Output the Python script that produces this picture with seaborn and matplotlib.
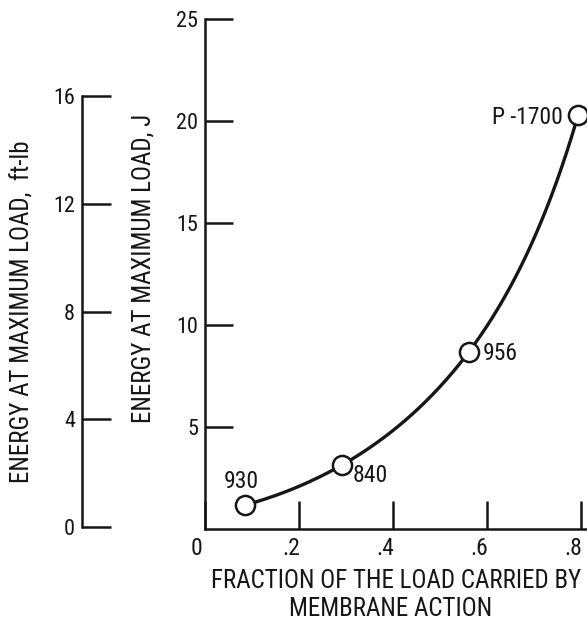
import numpy as np
import pandas as pd
import matplotlib
matplotlib.use("Agg")
import matplotlib.pyplot as plt
import matplotlib.transforms as mtransforms
import seaborn as sns

# Measured specimens: fraction of load carried by membrane action vs. energy
specimens = ["930", "840", "956", "P -1700"]
membrane_fraction = [0.085, 0.291, 0.562, 0.794]
energy_joule = [1.17, 3.13, 8.7, 20.3]

x_ticks = [0, 0.2, 0.4, 0.6, 0.8]
x_tick_labels = ["0", ".2", ".4", ".6", ".8"]
y_ticks_joule = [5, 10, 15, 20, 25]
y_ticks_ftlb = [0, 4, 8, 12, 16]

sns.set_theme(style="white")
plt.rcParams["font.family"] = ["Roboto Condensed", "DejaVu Sans"]

INK = "#161616"
W, H = 587, 623
fig = plt.figure(figsize=(W / 100, H / 100), dpi=100)
fig.patch.set_facecolor("white")


def box(x0, y0, x1, y1):
    """Axes rectangle from pixel corners (top-left origin)."""
    return [x0 / W, 1 - y1 / H, (x1 - x0) / W, (y1 - y0) / H]


ax = fig.add_axes(box(205, 19, 587, 529))
df = pd.DataFrame({"fraction": membrane_fraction, "energy": energy_joule, "id": specimens})

# smooth curve through the measured points (interpolated in log space)
coef = np.polyfit(df["fraction"], np.log(df["energy"]), 3)
xs = np.linspace(df["fraction"].min(), df["fraction"].max(), 200)
curve = pd.DataFrame({"fraction": xs, "energy": np.exp(np.polyval(coef, xs))})
sns.lineplot(data=curve, x="fraction", y="energy", ax=ax, color=INK, linewidth=2.4, zorder=2)
sns.scatterplot(data=df, x="fraction", y="energy", ax=ax, s=190, facecolor="white",
                edgecolor=INK, linewidth=1.8, zorder=3, clip_on=False)

offsets = {"930": (-4, 24), "840": (28, -10), "956": (31, -2), "P -1700": (-51, -3)}
for _, r in df.iterrows():
    ax.annotate(r["id"], (r["fraction"], r["energy"]), xytext=offsets[r["id"]],
                textcoords="offset pixels", ha="center", va="center",
                fontsize=17, color=INK)

ax.set_xlim(0, 0.8128)
ax.set_ylim(0, 25)
ax.set_xticks(x_ticks)
ax.set_xticklabels(x_tick_labels)
ax.set_yticks(y_ticks_joule)
ax.set_yticklabels([str(v) for v in y_ticks_joule])
ax.set_xlabel("")
ax.set_ylabel("")
for s in ["top", "right"]:
    ax.spines[s].set_visible(False)
for s in ["left", "bottom"]:
    ax.spines[s].set_color(INK)
    ax.spines[s].set_linewidth(1.8)
ax.tick_params(axis="both", direction="in", length=20, width=1.8, color=INK,
               labelcolor=INK, bottom=True, left=True)
ax.tick_params(axis="x", pad=6, labelsize=17)
ax.tick_params(axis="y", pad=5, labelsize=16)

# nudge the x tick labels slightly left of their ticks
shift = mtransforms.ScaledTranslation(-8 / 100, 0, fig.dpi_scale_trans)
for lbl in ax.get_xticklabels():
    lbl.set_transform(lbl.get_transform() + shift)

# secondary energy scale in ft-lb
ax2 = fig.add_axes(box(82, 96, 112, 527))
ax2.set_ylim(0, 16)
ax2.set_xlim(0, 1)
ax2.set_yticks(y_ticks_ftlb)
ax2.set_yticklabels([str(v) for v in y_ticks_ftlb])
ax2.set_xticks([])
ax2.patch.set_alpha(0)
for s in ["top", "right", "bottom"]:
    ax2.spines[s].set_visible(False)
ax2.spines["left"].set_color(INK)
ax2.spines["left"].set_linewidth(1.8)
ax2.tick_params(axis="y", direction="in", length=21, width=1.8, color=INK,
                labelsize=16, labelcolor=INK, pad=5, left=True)

fig.text(23 / W, 1 - 312 / H, "ENERGY AT MAXIMUM LOAD,  ft-lb", rotation=90,
         ha="center", va="center", fontsize=18, color=INK)
fig.text(143 / W, 1 - 268 / H, "ENERGY AT MAXIMUM LOAD, J", rotation=90,
         ha="center", va="center", fontsize=18, color=INK)
fig.text(396 / W, 1 - 581 / H, "FRACTION OF THE LOAD CARRIED BY",
         ha="center", va="center", fontsize=18, color=INK)
fig.text(391 / W, 1 - 609 / H, "MEMBRANE ACTION",
         ha="center", va="center", fontsize=18, color=INK)

fig.savefig("out.png", dpi=100, facecolor="white")
